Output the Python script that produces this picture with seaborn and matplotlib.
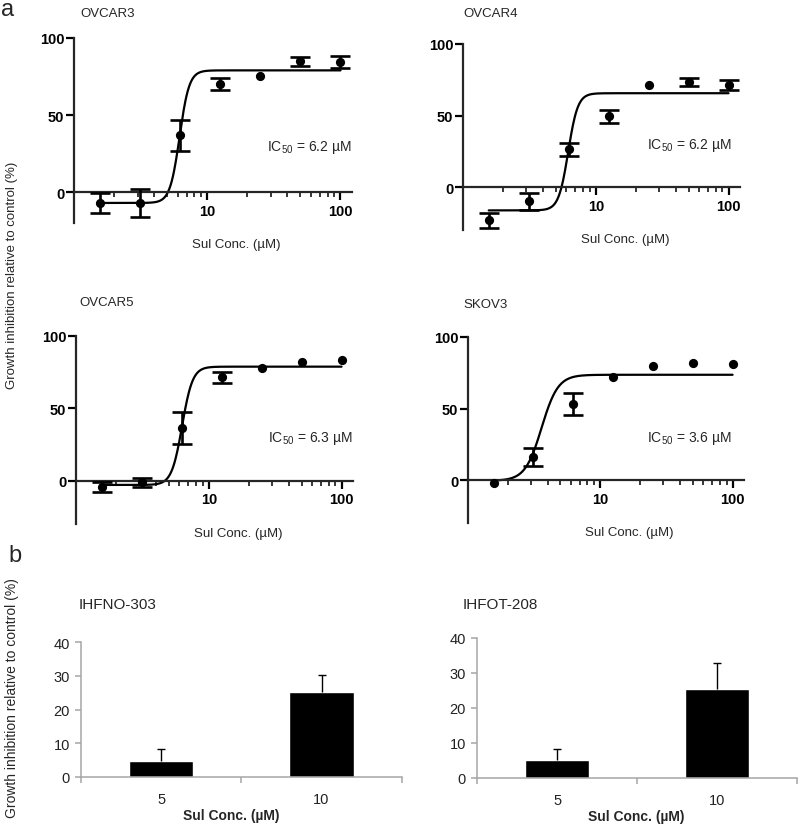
import numpy as np
import matplotlib
matplotlib.use('Agg')
import matplotlib.pyplot as plt
import matplotlib.ticker as mticker
from matplotlib.transforms import blended_transform_factory, ScaledTranslation
import seaborn as sns

# dose-response data (panel a)
conc = [1.5625, 3.125, 6.25, 12.5, 25, 50, 100]
ovcar3_mean = [-7.1, -7.0, 37.0, 70.0, 75.5, 85.0, 84.6]
ovcar3_err = [6.7, 9.0, 10.0, 4.0, 0, 3.0, 4.0]
ovcar4_mean = [-23.3, -9.8, 26.3, 49.5, 71.4, 73.3, 71.6]
ovcar4_err = [5.0, 6.0, 4.3, 4.7, 0, 3.0, 3.5]
ovcar5_mean = [-4.7, -1.2, 36.5, 71.4, 77.9, 82.3, 83.5]
ovcar5_err = [3.5, 3.3, 11.0, 4.0, 0, 0, 0]
skov3_mean = [-2.1, 15.9, 53.3, 72.0, 79.4, 82.0, 81.3]
skov3_err = [0, 6.4, 7.5, 0, 0, 0, 0]

cell_lines = ['OVCAR3', 'OVCAR4', 'OVCAR5', 'SKOV3']
# fitted 4-parameter curves
fit_bottom = [-7.0, -16.3, -3.0, -0.5]
fit_top = [79.0, 65.6, 78.8, 73.6]
ic50 = [6.2, 6.2, 6.3, 3.6]
hill = [12, 12, 11, 7]
ic50_labels = ['6.2', '6.2', '6.3', '3.6']

# bar data (panel b)
bar_conc = ['5', '10']
ihfno_mean = [4.8, 25.3]
ihfno_err = [3.4, 5.0]
ihfot_mean = [5.2, 25.4]
ihfot_err = [3.1, 7.6]

sns.set_style('ticks')
plt.rcParams['font.family'] = ['Liberation Sans', 'DejaVu Sans']

W, H = 800, 829
fig = plt.figure(figsize=(W / 100, H / 100), dpi=100)


def add_ax(l, t, r, b):
    return fig.add_axes([l / W, 1 - b / H, (r - l) / W, (b - t) / H])


def ftext(x, y, s, **kw):
    fig.text(x / W, 1 - y / H, s, **kw)


# layout: (left, top, right, bottom) in px, ymin, title pos, IC50 x frac
top_layout = [
    ((74, 39, 352, 224), -20, (80, 14), 1.0),
    ((463, 45, 740, 231), -30, (463, 14), 0.97),
    ((76, 337, 353, 525), -30, (79, 303), 1.0),
    ((468, 338, 744, 524), -30, (463, 305), 0.955),
]
means = [ovcar3_mean, ovcar4_mean, ovcar5_mean, skov3_mean]
errs = [ovcar3_err, ovcar4_err, ovcar5_err, skov3_err]

c = np.array(conc)
for i, (box, ymin, tpos, icx) in enumerate(top_layout):
    ax = add_ax(*box)
    m = np.array(means[i])
    e = np.array(errs[i])

    # fitted curve
    xs = np.logspace(np.log10(c[0]), np.log10(c[-1]), 400)
    ys = fit_bottom[i] + (fit_top[i] - fit_bottom[i]) / (
        1 + 10 ** ((np.log10(ic50[i]) - np.log10(xs)) * hill[i]))
    sns.lineplot(x=xs, y=ys, color='black', lw=1.6, ax=ax, zorder=2)

    mask = e > 0
    ax.errorbar(c[mask], m[mask], yerr=e[mask], fmt='none', ecolor='black',
                elinewidth=1.9, capsize=7, capthick=1.9, zorder=3)
    sns.scatterplot(x=c, y=m, color='black', s=44, linewidth=0, ax=ax,
                    zorder=4, legend=False)

    ax.set_xscale('log')
    ax.set_xlim(1, 122)
    ax.set_ylim(ymin, 100)
    for s in ['top', 'right']:
        ax.spines[s].set_visible(False)
    ax.spines['bottom'].set_position(('data', 0))
    ax.spines['left'].set_linewidth(1.6)
    ax.spines['bottom'].set_linewidth(1.6)
    ax.set_xticks([10, 100])
    ax.set_xticklabels(['10', '100'])
    ax.xaxis.set_minor_locator(mticker.LogLocator(base=10, subs=range(2, 10)))
    ax.xaxis.set_minor_formatter(mticker.NullFormatter())
    ax.set_yticks([0, 50, 100])
    ax.set_yticklabels(['0', '50', '100'])
    ax.tick_params(axis='both', which='major', direction='out', width=1.6,
                   length=5.5, labelsize=10.5, colors='black')
    ax.tick_params(axis='x', which='major', pad=3)
    ax.tick_params(axis='y', which='major', pad=1.5)
    ax.tick_params(axis='x', which='minor', direction='out', width=1.3, length=3.5)
    for lbl in ax.get_xticklabels() + ax.get_yticklabels():
        lbl.set_fontweight('bold')

    trans = blended_transform_factory(ax.transAxes, ax.transData)
    ax.set_xlabel('Sul Conc. (µM)', fontsize=9.5)
    ax.xaxis.set_label_coords(
        0.585, 0, transform=trans + ScaledTranslation(0, -0.52, fig.dpi_scale_trans))
    ax.xaxis.label.set_va('center')
    ax.set_ylabel('')

    ax.text(icx, 29.5, r'IC$_{\mathregular{50}}$ = ' + ic50_labels[i] + ' µM',
            transform=trans, ha='right', va='center', fontsize=10)
    ftext(tpos[0], tpos[1], cell_lines[i], ha='left', va='center', fontsize=9.5)

# panel b
bot_layout = [
    ((81, 643.3, 401.7, 777.7), 'IHFNO-303', (79, 605), 0.467, -0.288),
    ((477.2, 639, 797.2, 779), 'IHFOT-208', (463, 605), 0.498, -0.27),
]
bar_means = [ihfno_mean, ihfot_mean]
bar_errs = [ihfno_err, ihfot_err]
gray = '#a6a6a6'

for i, (box, title, tpos, lx, ly) in enumerate(bot_layout):
    ax = add_ax(*box)
    sns.barplot(x=bar_conc, y=bar_means[i], color='black', width=0.4,
                errorbar=None, saturation=1, ax=ax)
    # upper-only error bars: stem plus a cap at the top
    bm = np.array(bar_means[i])
    be = np.array(bar_errs[i])
    ax.vlines([0, 1], bm, bm + be, color='black', lw=1)
    ax.scatter([0, 1], bm + be, marker='_', s=30, color='black', linewidths=1)
    ax.set_xlim(-0.5, 1.5)
    ax.set_ylim(0, 40)
    ax.set_yticks([0, 10, 20, 30, 40])
    for s in ['top', 'right']:
        ax.spines[s].set_visible(False)
    for s in ['left', 'bottom']:
        ax.spines[s].set_color(gray)
        ax.spines[s].set_linewidth(1.1)
    ax.set_xticks([-0.5, 0.5, 1.5], minor=True)
    ax.tick_params(axis='x', which='major', length=0, pad=11, labelsize=10.5,
                   labelcolor='#222222')
    ax.tick_params(axis='x', which='minor', length=4, width=1.1, color=gray,
                   direction='out')
    ax.tick_params(axis='y', which='major', length=4, width=1.1, color=gray,
                   direction='out', labelsize=10.5, labelcolor='#222222', pad=4)
    ax.set_xlabel('Sul Conc. (µM)', fontsize=10, fontweight='bold')
    ax.xaxis.set_label_coords(lx, ly)
    ax.xaxis.label.set_va('center')
    ax.set_ylabel('')
    ftext(tpos[0], tpos[1], title, ha='left', va='center', fontsize=11)

ylab = 'Growth inhibition relative to control (%)'
ftext(12, 275, ylab, rotation=90, ha='center', va='center', fontsize=9.5)
ftext(12, 698, ylab, rotation=90, ha='center', va='center', fontsize=10)
ftext(8, 10, 'a', ha='center', va='center', fontsize=17)
ftext(15, 556, 'b', ha='center', va='center', fontsize=17)

fig.savefig('out.png', dpi=100)
